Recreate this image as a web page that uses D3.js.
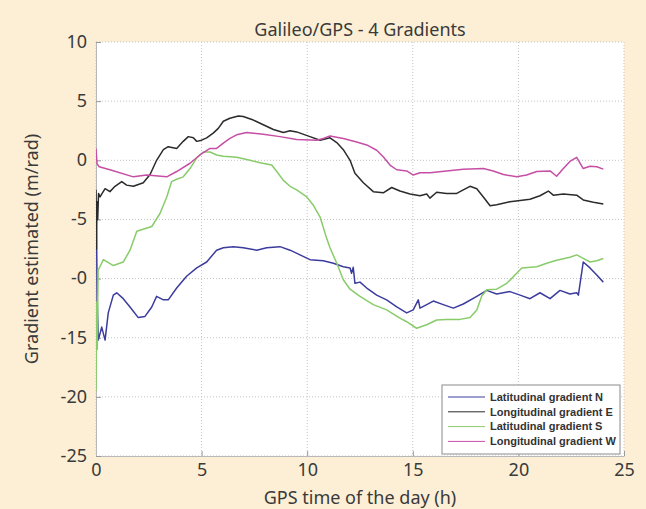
<!DOCTYPE html>
<html>
<head>
<meta charset="utf-8">
<script src="https://cdn.jsdelivr.net/npm/d3@7"></script>
<style>
	body { margin: 0; background: #fcefd5; }
	svg { display: block; }
	.tick text { font-family: "Noto Sans", sans-serif; }
</style>
</head>
<body>
<div id="chart"></div>
<script>
// series names and colours
var seriesNames = ['Latitudinal gradient N', 'Longitudinal gradient E', 'Latitudinal gradient S', 'Longitudinal gradient W'];
var seriesColors = ['#3c3c9e', '#2b2b2b', '#88cc6a', '#c64fa6'];

// tick labels (as printed on the figure)
var xTicks = [0, 5, 10, 15, 20, 25];
var yTicks = [10, 5, 0, -5, -10, -15, -20, -25];
var yTickLabels = ['10', '5', '0', '-5', '-0', '-15', '-20', '-25'];

// latitudinal gradient N
var timeN = [0, 0.03, 0.06, 0.11, 0.27, 0.43, 0.58, 0.82, 0.98, 1.29, 1.61, 2.0, 2.32, 2.64, 2.87, 3.19, 3.42, 3.82, 4.29, 4.77, 5.24, 5.71, 6.03, 6.5, 6.97, 7.61, 8.08, 8.71, 9.19, 9.66, 10.13, 10.76, 11.24, 11.71, 12.03, 12.1, 12.18, 12.26, 12.5, 12.82, 13.29, 13.76, 14.24, 14.71, 15.02, 15.26, 15.34, 15.66, 15.97, 16.44, 16.92, 17.39, 18.03, 18.5, 18.97, 19.6, 20.08, 20.55, 21.02, 21.5, 21.97, 22.44, 22.76, 22.84, 23.07, 23.39, 23.71, 24.02];
var gradN = [-4.5, -7, -12, -15.2, -14.1, -15.2, -12.9, -11.4, -11.2, -11.7, -12.4, -13.3, -13.2, -12.4, -11.5, -11.8, -11.8, -10.8, -9.8, -9.1, -8.6, -7.6, -7.4, -7.3, -7.4, -7.6, -7.4, -7.3, -7.6, -8.0, -8.4, -8.5, -8.7, -9.0, -9.1, -9.55, -9.05, -10.4, -10.3, -10.8, -11.4, -11.8, -12.4, -12.9, -12.65, -11.8, -12.5, -12.2, -11.9, -12.2, -12.5, -12.15, -11.5, -11.0, -11.3, -11.1, -11.4, -11.7, -11.2, -11.7, -11.0, -11.3, -11.2, -11.4, -8.6, -9.1, -9.7, -10.3];

// longitudinal gradient E
var timeE = [0, 0.02, 0.05, 0.08, 0.12, 0.19, 0.43, 0.66, 0.9, 1.22, 1.45, 1.77, 2.24, 2.56, 2.87, 3.19, 3.42, 3.82, 4.13, 4.37, 4.61, 4.77, 5.0, 5.24, 5.55, 5.79, 6.03, 6.34, 6.74, 6.97, 7.45, 7.92, 8.4, 8.87, 9.19, 9.5, 10.13, 10.61, 11.08, 11.4, 11.71, 12.03, 12.26, 12.66, 13.13, 13.6, 14.0, 14.39, 14.87, 15.34, 15.66, 15.81, 16.13, 16.6, 17.08, 17.39, 17.71, 18.03, 18.34, 18.66, 18.97, 19.6, 20.08, 20.55, 21.02, 21.42, 21.65, 22.13, 22.76, 23.07, 23.55, 24.02];
var gradE = [-2.5, -7.5, -3.5, -5.0, -2.8, -3.1, -2.4, -2.65, -2.2, -1.8, -2.1, -2.2, -1.9, -1.2, 0.0, 0.9, 1.15, 1.0, 1.6, 2.0, 1.9, 1.6, 1.7, 1.9, 2.3, 2.7, 3.3, 3.55, 3.75, 3.7, 3.4, 3.0, 2.6, 2.35, 2.5, 2.4, 2.0, 1.7, 1.9, 1.5, 0.9, 0.0, -1.1, -1.9, -2.65, -2.75, -2.3, -2.6, -2.85, -3.0, -2.85, -3.2, -2.7, -2.8, -2.8, -2.5, -2.2, -2.4, -3.1, -3.85, -3.75, -3.5, -3.4, -3.3, -3.0, -2.6, -2.95, -2.85, -2.95, -3.35, -3.55, -3.7];

// latitudinal gradient S
var timeS = [0, 0.03, 0.06, 0.1, 0.35, 0.82, 1.29, 1.61, 1.93, 2.64, 3.03, 3.35, 3.58, 3.82, 4.13, 4.45, 4.77, 5.08, 5.4, 5.71, 6.03, 6.66, 7.29, 7.77, 8.32, 8.56, 8.87, 9.19, 9.5, 9.98, 10.29, 10.61, 10.92, 11.08, 11.4, 11.71, 12.03, 12.5, 13.13, 13.76, 14.39, 14.71, 15.18, 15.66, 16.13, 16.6, 17.23, 17.71, 18.03, 18.26, 18.5, 18.97, 19.45, 19.92, 20.16, 20.87, 21.34, 21.81, 22.44, 22.76, 23.07, 23.39, 23.71, 24.02];
var gradS = [-19.5, -12, -16, -9.3, -8.4, -8.9, -8.6, -7.6, -6.0, -5.6, -4.5, -3.1, -1.8, -1.6, -1.4, -0.7, 0.2, 0.7, 0.7, 0.45, 0.35, 0.25, 0.0, -0.2, -0.4, -0.95, -1.7, -2.2, -2.5, -3.1, -3.8, -4.8, -6.6, -7.4, -8.7, -10.1, -10.9, -11.5, -12.2, -12.65, -13.35, -13.65, -14.2, -13.9, -13.5, -13.45, -13.45, -13.3, -12.65, -11.5, -10.95, -10.9, -10.4, -9.55, -9.1, -9.0, -8.7, -8.45, -8.2, -8.0, -8.3, -8.6, -8.5, -8.3];

// longitudinal gradient W
var timeW = [0, 0.05, 0.15, 0.66, 1.77, 2.4, 3.35, 3.82, 4.45, 4.92, 5.4, 5.71, 6.03, 6.34, 6.66, 7.13, 7.92, 8.71, 9.5, 10.45, 10.76, 11.08, 11.71, 12.34, 12.82, 13.29, 13.6, 13.92, 14.24, 14.71, 15.02, 15.34, 15.81, 16.6, 17.39, 18.34, 18.81, 19.29, 19.92, 20.39, 20.87, 21.5, 21.81, 22.13, 22.44, 22.76, 23.07, 23.39, 23.71, 24.02];
var gradW = [1.0, -0.3, -0.55, -0.8, -1.4, -1.25, -1.4, -0.95, -0.25, 0.45, 1.0, 1.0, 1.45, 1.85, 2.15, 2.35, 2.2, 2.0, 1.75, 1.7, 1.85, 2.05, 1.85, 1.55, 1.3, 0.85, 0.3, -0.4, -0.8, -0.9, -1.25, -1.05, -1.05, -0.9, -0.75, -0.7, -0.9, -1.2, -1.4, -1.25, -0.95, -0.9, -1.35, -0.7, -0.1, 0.25, -0.7, -0.5, -0.55, -0.75];

var allTimes = [timeN, timeE, timeS, timeW];
var allGrads = [gradN, gradE, gradS, gradW];

createChart();

function createChart() {
	var svgWidth = 646;
	var svgHeight = 509;
	var margin = {left: 96, right: 22, top: 42, bottom: 53};
	var width = svgWidth - margin.left - margin.right;
	var height = svgHeight - margin.top - margin.bottom;
	var textColor = '#3a3a3a';

	var x = d3.scaleLinear().domain([0, 25]).range([0, width]);
	var y = d3.scaleLinear().domain([-25, 10]).range([height, 0]);

	var svg = d3.select('#chart').append('svg')
		.attr('width', svgWidth).attr('height', svgHeight);

	// title
	svg.append('text')
		.attr('x', margin.left + width / 2).attr('y', 36)
		.attr('text-anchor', 'middle')
		.style('font-family', '"Noto Sans", sans-serif').style('font-size', '18px')
		.style('fill', textColor)
		.text('Galileo/GPS - 4 Gradients');

	var g = svg.append('g')
		.attr('transform', 'translate(' + margin.left + ',' + margin.top + ')');

	g.append('rect').attr('width', width).attr('height', height).style('fill', '#fff');

	// dotted grid
	g.selectAll('.gx').data(xTicks).enter().append('line')
		.attr('x1', function(d) { return x(d); }).attr('x2', function(d) { return x(d); })
		.attr('y1', 0).attr('y2', height)
		.style('stroke', '#c4c4c4').style('stroke-dasharray', '1,2');
	g.selectAll('.gy').data(yTicks).enter().append('line')
		.attr('y1', function(d) { return y(d); }).attr('y2', function(d) { return y(d); })
		.attr('x1', 0).attr('x2', width)
		.style('stroke', '#c4c4c4').style('stroke-dasharray', '1,2');

	// axes
	var xAxis = g.append('g')
		.attr('transform', 'translate(0,' + height + ')')
		.call(d3.axisBottom(x).tickValues(xTicks).tickSizeInner(-5).tickSizeOuter(0).tickPadding(10));
	var yAxis = g.append('g')
		.call(d3.axisLeft(y).tickValues(yTicks).tickSizeInner(-5).tickSizeOuter(0).tickPadding(9)
			.tickFormat(function(d, i) { return yTickLabels[i]; }));

	[xAxis, yAxis].forEach(function(a) {
		a.select('.domain').style('stroke', '#b8b8b8');
		a.selectAll('.tick line').style('stroke', '#999');
		a.selectAll('.tick text').style('font-size', '18px').style('fill', textColor);
	});
	xAxis.selectAll('.tick text').attr('dy', '0.55em');
	yAxis.selectAll('.tick text').attr('dy', '0.3em');

	g.append('clipPath').attr('id', 'clip')
		.append('rect').attr('width', width).attr('height', height);

	var line = d3.line()
		.x(function(d) { return x(d[0]); })
		.y(function(d) { return y(d[1]); });

	var lines = allTimes.map(function(ts, i) {
		return ts.map(function(t, j) { return [t, allGrads[i][j]]; });
	});

	g.append('g').attr('clip-path', 'url(#clip)')
		.selectAll('path').data(lines).enter().append('path')
		.attr('d', line)
		.style('fill', 'none')
		.style('stroke', function(d, i) { return seriesColors[i]; })
		.style('stroke-width', 1.5)
		.style('stroke-linejoin', 'round');

	// axis labels
	svg.append('text')
		.attr('x', margin.left + width / 2).attr('y', 504)
		.attr('text-anchor', 'middle')
		.style('font-family', '"Noto Sans", sans-serif').style('font-size', '18px')
		.style('fill', textColor)
		.text('GPS time of the day (h)');

	svg.append('text')
		.attr('transform', 'translate(38,' + (margin.top + height / 2) + ') rotate(-90)')
		.attr('text-anchor', 'middle')
		.style('font-family', '"Noto Sans", sans-serif').style('font-size', '18px')
		.style('fill', textColor)
		.text('Gradient estimated (m/rad)');

	// legend
	var legend = g.append('g').attr('transform', 'translate(' + (442 - margin.left) + ',' + (385 - margin.top) + ')');
	legend.append('rect')
		.attr('width', 178).attr('height', 69)
		.style('fill', '#fff').style('stroke', '#8a8a8a');
	var items = legend.selectAll('.item').data(seriesNames).enter().append('g')
		.attr('transform', function(d, i) { return 'translate(0,' + (12 + i * 14.8) + ')'; });
	items.append('line')
		.attr('x1', 6).attr('x2', 43)
		.style('stroke', function(d, i) { return seriesColors[i]; })
		.style('stroke-width', 1);
	items.append('text')
		.attr('x', 48).attr('dy', '0.35em')
		.style('font-family', '"Liberation Sans", Arial, sans-serif')
		.style('font-weight', 'bold').style('font-size', '11px')
		.style('fill', '#333')
		.text(function(d) { return d; });
}
</script>
</body>
</html>
